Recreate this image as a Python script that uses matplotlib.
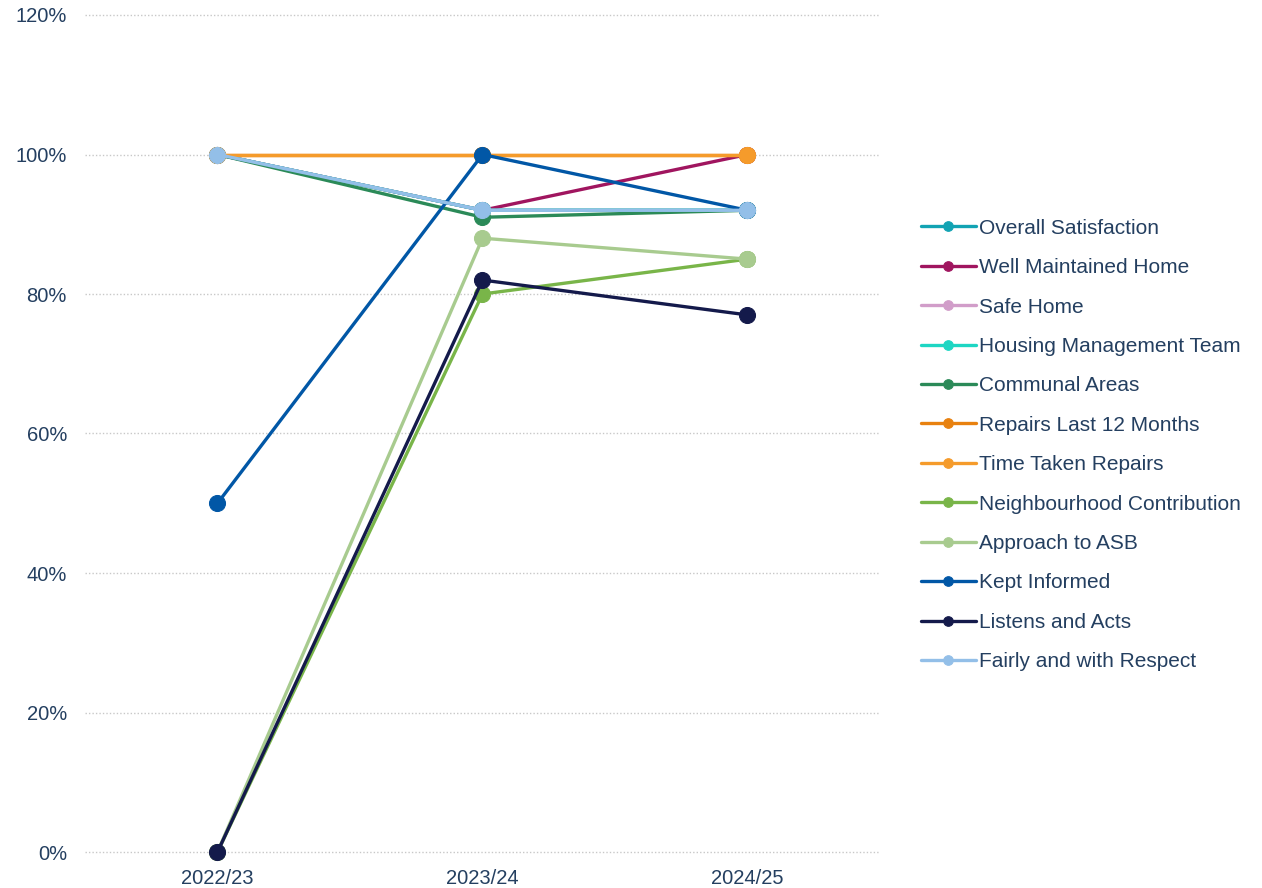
import matplotlib
matplotlib.use("Agg")
import matplotlib.pyplot as plt
from matplotlib.ticker import FuncFormatter

categories = ["2022/23", "2023/24", "2024/25"]
series_names = [
    "Overall Satisfaction", "Well Maintained Home", "Safe Home",
    "Housing Management Team", "Communal Areas", "Repairs Last 12 Months",
    "Time Taken Repairs", "Neighbourhood Contribution", "Approach to ASB",
    "Kept Informed", "Listens and Acts", "Fairly and with Respect",
]
overall = [100, 92, 92]
well_maintained = [100, 92, 100]
safe_home = [100, 92, 92]
housing_team = [100, 92, 92]
communal = [100, 91, 92]
repairs_12 = [100, 100, 100]
time_taken = [100, 100, 100]
neighbourhood = [0, 80, 85]
asb = [0, 88, 85]
kept_informed = [50, 100, 92]
listens = [0, 82, 77]
fairly = [100, 92, 92]
values = [overall, well_maintained, safe_home, housing_team, communal, repairs_12,
          time_taken, neighbourhood, asb, kept_informed, listens, fairly]
colors = ["#12A3B3", "#A0155F", "#D19DC9", "#1DD6C3", "#2B8A58", "#E8810F",
          "#F59B2B", "#79B549", "#A8CB8F", "#0157A6", "#141A4B", "#93BFE8"]

text_color = "#243F60"
plt.rcParams["font.family"] = ["Liberation Sans", "DejaVu Sans"]

fig = plt.figure(figsize=(12.62, 8.88), dpi=100)
ax = fig.add_axes([85/1262, 36/888, 795/1262, 837/888])
x = list(range(len(categories)))
for name, vals, c in zip(series_names, values, colors):
    ax.plot(x, vals, color=c, lw=2.4, marker="o", markersize=11.5,
            markeredgecolor=c, markeredgewidth=0.8, label=name, zorder=3,
            solid_capstyle="round", clip_on=False)

ax.set_xlim(-0.5, 2.5)
ax.set_ylim(0, 120)
ax.set_yticks(range(0, 121, 20))
ax.yaxis.set_major_formatter(FuncFormatter(lambda v, p: f"{int(v)}%"))
ax.set_xticks(x)
ax.set_xticklabels(categories)
ax.grid(axis="y", color="#C8C8C8", linestyle=(0, (1, 1.5)), lw=1.0, zorder=0)
for gl in ax.get_ygridlines():
    gl.set_clip_on(False)
for s in ax.spines.values():
    s.set_visible(False)
ax.tick_params(axis="both", length=0, labelsize=14.5, colors=text_color)
ax.tick_params(axis="x", pad=12)
ax.tick_params(axis="y", pad=13)
for lab in ax.get_xticklabels() + ax.get_yticklabels():
    lab.set_color(text_color)

leg = fig.legend(loc="center left", bbox_to_anchor=(913/1262, 1 - 445/888),
                 frameon=False, fontsize=15, handlelength=2.6,
                 handletextpad=0.15, labelspacing=0.98, markerscale=0.6,
                 borderaxespad=0)
for t in leg.get_texts():
    t.set_color(text_color)

fig.savefig("out.png", dpi=100)
